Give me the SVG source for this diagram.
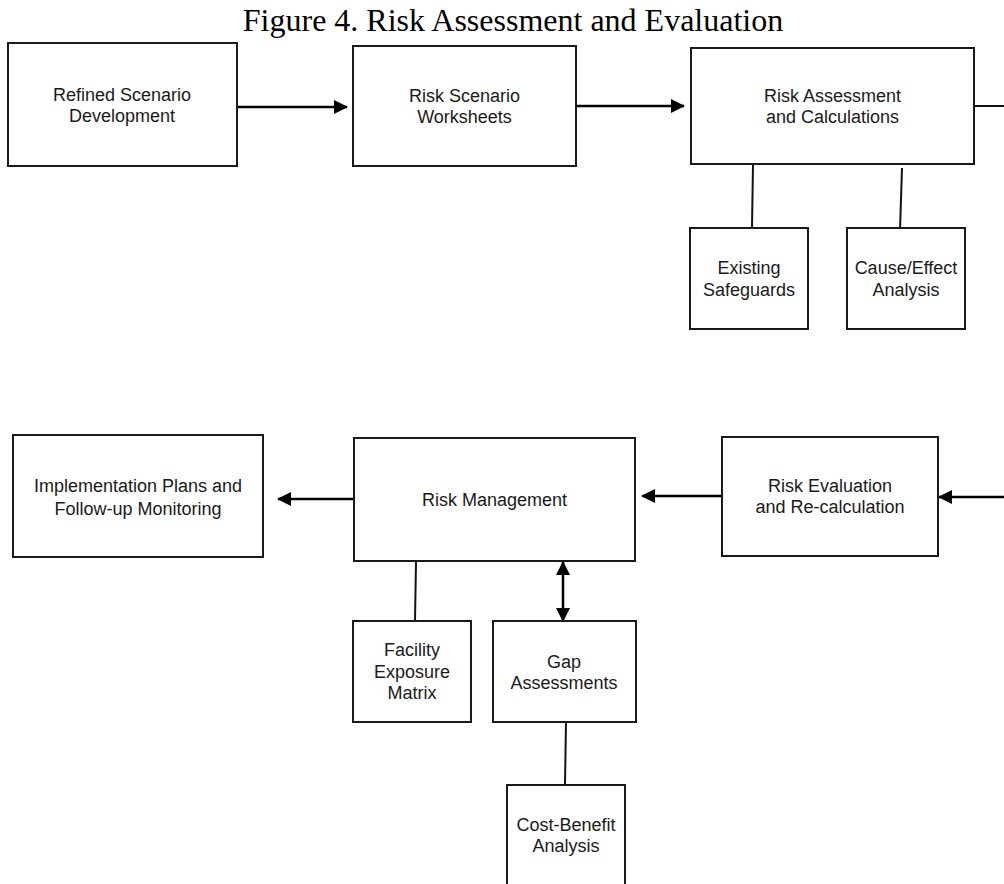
<svg xmlns="http://www.w3.org/2000/svg" width="1004" height="884" viewBox="0 0 1004 884">
<style>
.box{fill:#fff;stroke:#1a1a1a;stroke-width:2}
.lbl{font-family:"Liberation Sans",Arial,sans-serif;font-size:18px;fill:#1a1a1a;text-anchor:middle}
.title{font-family:"Liberation Serif","Times New Roman",serif;font-size:32px;fill:#000;text-anchor:middle}
.ln{stroke:#111;stroke-width:2;fill:none}
.ar{stroke:#000;stroke-width:2.5;fill:none}
</style>
<defs>
<marker id="ah" markerUnits="userSpaceOnUse" markerWidth="14" markerHeight="14" refX="13" refY="7" orient="auto-start-reverse">
<path d="M0,0 L14,7 L0,14 z" fill="#000"/>
</marker>
</defs>
<rect width="1004" height="884" fill="#fff"/>
<text class="title" x="513" y="31">Figure 4. Risk Assessment and Evaluation</text>

<g id="connectors">
<line class="ar" x1="237" y1="107" x2="347" y2="107" marker-end="url(#ah)"/>
<line class="ar" x1="576" y1="106" x2="684" y2="106" marker-end="url(#ah)"/>
<line class="ln" x1="974" y1="106" x2="1004" y2="106"/>
<line class="ln" x1="753" y1="164" x2="752" y2="228"/>
<line class="ln" x1="902" y1="168" x2="900" y2="230"/>
<line class="ar" x1="1004" y1="497" x2="939" y2="497" marker-end="url(#ah)"/>
<line class="ar" x1="721" y1="496" x2="642" y2="496" marker-end="url(#ah)"/>
<line class="ar" x1="358" y1="499" x2="278" y2="499" marker-end="url(#ah)"/>
<line class="ln" x1="416" y1="561" x2="415" y2="621"/>
<line class="ar" x1="563" y1="562" x2="563" y2="621" marker-start="url(#ah)" marker-end="url(#ah)"/>
<line class="ln" x1="566" y1="722" x2="565" y2="785"/>
</g>

<g id="refined">
<rect class="box" x="8" y="43" width="229" height="123"/>
<text class="lbl" x="122" y="101">Refined Scenario</text>
<text class="lbl" x="122" y="122">Development</text>
</g>
<g id="worksheets">
<rect class="box" x="353" y="46" width="223" height="120"/>
<text class="lbl" x="464.5" y="102">Risk Scenario</text>
<text class="lbl" x="464.5" y="123">Worksheets</text>
</g>
<g id="assessment">
<rect class="box" x="691" y="48" width="283" height="116"/>
<text class="lbl" x="832.5" y="102">Risk Assessment</text>
<text class="lbl" x="832.5" y="123">and Calculations</text>
</g>
<g id="safeguards">
<rect class="box" x="690" y="228" width="118" height="101"/>
<text class="lbl" x="749" y="274">Existing</text>
<text class="lbl" x="749" y="296">Safeguards</text>
</g>
<g id="causeeffect">
<rect class="box" x="847" y="228" width="118" height="101"/>
<text class="lbl" x="906" y="274">Cause/Effect</text>
<text class="lbl" x="906" y="296">Analysis</text>
</g>
<g id="implementation">
<rect class="box" x="13" y="435" width="250" height="122"/>
<text class="lbl" x="138" y="492">Implementation Plans and</text>
<text class="lbl" x="138" y="515">Follow-up Monitoring</text>
</g>
<g id="management">
<rect class="box" x="354" y="438" width="281" height="123"/>
<text class="lbl" x="494.5" y="506">Risk Management</text>
</g>
<g id="evaluation">
<rect class="box" x="722" y="437" width="216" height="119"/>
<text class="lbl" x="830" y="492">Risk Evaluation</text>
<text class="lbl" x="830" y="513">and Re-calculation</text>
</g>
<g id="facility">
<rect class="box" x="353" y="621" width="118" height="101"/>
<text class="lbl" x="412" y="656">Facility</text>
<text class="lbl" x="412" y="678">Exposure</text>
<text class="lbl" x="412" y="699">Matrix</text>
</g>
<g id="gap">
<rect class="box" x="493" y="621" width="143" height="101"/>
<text class="lbl" x="564" y="668">Gap</text>
<text class="lbl" x="564" y="689">Assessments</text>
</g>
<g id="costbenefit">
<rect class="box" x="507" y="785" width="118" height="110"/>
<text class="lbl" x="566" y="831">Cost-Benefit</text>
<text class="lbl" x="566" y="852">Analysis</text>
</g>
</svg>
